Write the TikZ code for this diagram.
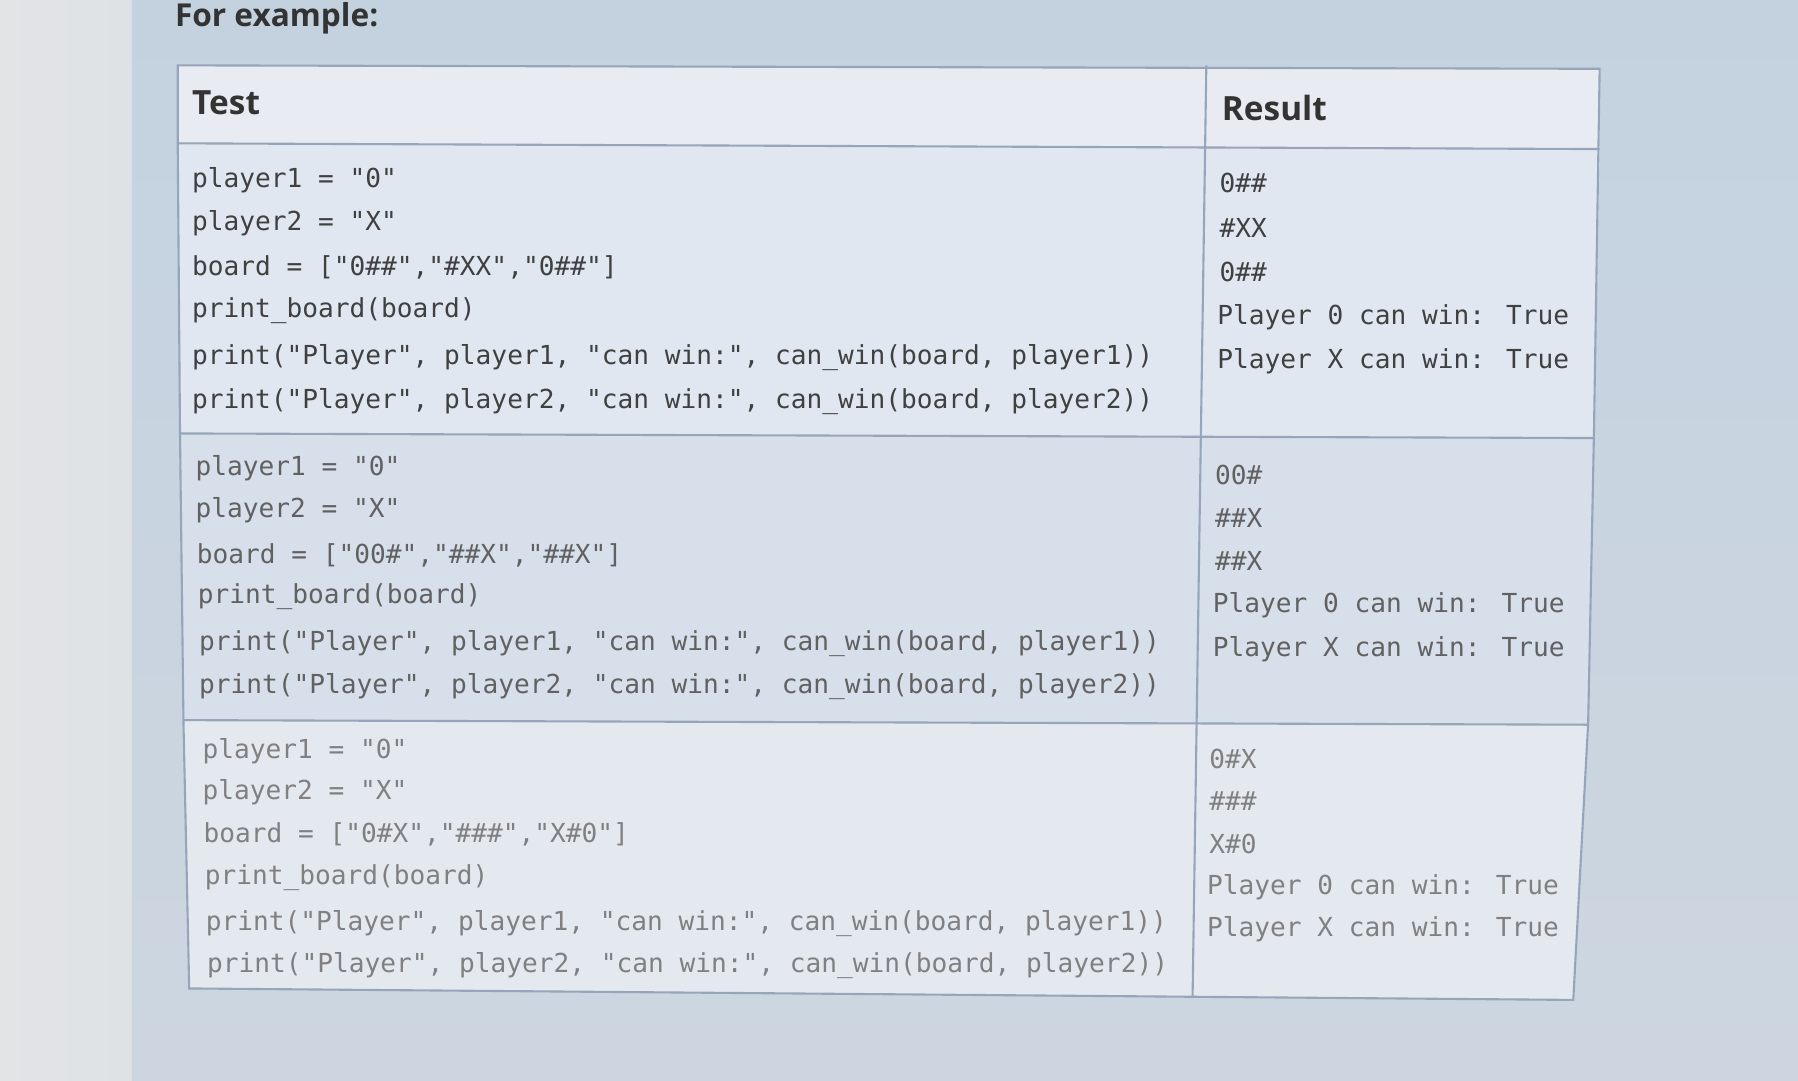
\documentclass[tikz,border=0pt]{standalone}
\usepackage{fontspec}
\setmainfont{Open Sans}
\newfontfamily\codefont{DejaVu Sans Mono}
\definecolor{bgl}{RGB}{226,228,230}
\definecolor{bgt}{RGB}{196,210,224}
\definecolor{bgb}{RGB}{205,214,224}
\definecolor{hd}{RGB}{232,236,242}
\definecolor{ra}{RGB}{224,231,241}
\definecolor{rb}{RGB}{214,223,234}
\definecolor{rc}{RGB}{228,233,240}
\definecolor{ln}{RGB}{150,165,185}
\begin{document}
\begin{tikzpicture}[x={(0.011467cm,0)},y={(0,-0.011467cm)},
  code/.style={anchor=west,inner sep=0pt,font=\codefont\fontsize{7.45pt}{9pt}\selectfont},
  head/.style={anchor=west,inner sep=0pt,font=\bfseries\fontsize{9.5pt}{11pt}\selectfont,text=black!80},
  grid/.style={draw=ln,line width=0.6pt}]
\useasboundingbox (0,0) rectangle (1568,942);
\shade[left color=bgl,right color=bgl!90!bgt] (0,0) rectangle (115,942);
\shade[top color=bgt,bottom color=bgb] (115,0) rectangle (1568,942);
\node[head,font=\bfseries\fontsize{9pt}{11pt}\selectfont] (fe) at (152,16) {For example:};
% table rows
\fill[hd] (155,57) -- (1395,60) -- (1395,130) -- (155,125) -- cycle;
\fill[ra] (155,125) -- (1395,130) -- (1390,382) -- (157,378) -- cycle;
\fill[rb] (157,378) -- (1390,382) -- (1385,632) -- (160,628) -- cycle;
\fill[rc] (160,628) -- (1385,632) -- (1372,872) -- (165,862) -- cycle;
\draw[grid] (155,57) -- (1395,60) -- (1390,380) -- (1385,630) -- (1372,872) -- (165,862) -- (160,630) -- (157,380) -- (155,127) -- cycle;
\draw[grid] (155,125) -- (1395,130);
\draw[grid] (157,378) -- (1390,382);
\draw[grid] (160,628) -- (1385,632);
\draw[grid] (1052,57) -- (1040,870);
\node[head] (t) at (167,90) {Test};
\node[head] (r) at (1065,94) {Result};
\begin{scope}[every node/.style={code,text=black!75}]
\node (a1) at (167,157) {player1 = "0"};
\node (a2) at (167,195) {player2 = "X"};
\node (a3) at (167,233) {board = ["0\#\#","\#XX","0\#\#"]};
\node (a4) at (167,271) {print\_board(board)};
\node (a5) at (167,312) {print("Player", player1, "can win:", can\_win(board, player1))};
\node (a6) at (167,350) {print("Player", player2, "can win:", can\_win(board, player2))};
\node (b1) at (1063,160) {0\#\#};
\node (b2) at (1063,199) {\#XX};
\node (b3) at (1063,237) {0\#\#};
\node (b4) at (1061,277) {Player 0 can win: True};
\node (b5) at (1061,315) {Player X can win: True};
\end{scope}
\begin{scope}[every node/.style={code,text=black!62}]
\node (c1) at (170,408) {player1 = "0"};
\node (c2) at (170,445) {player2 = "X"};
\node (c3) at (171,484) {board = ["00\#","\#\#X","\#\#X"]};
\node (c4) at (172,520) {print\_board(board)};
\node (c5) at (173,561) {print("Player", player1, "can win:", can\_win(board, player1))};
\node (c6) at (173,599) {print("Player", player2, "can win:", can\_win(board, player2))};
\node (d1) at (1059,414) {00\#};
\node (d2) at (1059,452) {\#\#X};
\node (d3) at (1059,489) {\#\#X};
\node (d4) at (1057,528) {Player 0 can win: True};
\node (d5) at (1057,566) {Player X can win: True};
\end{scope}
\begin{scope}[every node/.style={code,text=black!50}]
\node (e1) at (176,655) {player1 = "0"};
\node (e2) at (176,691) {player2 = "X"};
\node (e3) at (177,728) {board = ["0\#X","\#\#\#","X\#0"]};
\node (e4) at (178,765) {print\_board(board)};
\node (e5) at (179,805) {print("Player", player1, "can win:", can\_win(board, player1))};
\node (e6) at (180,842) {print("Player", player2, "can win:", can\_win(board, player2))};
\node (f1) at (1054,662) {0\#X};
\node (f2) at (1054,699) {\#\#\#};
\node (f3) at (1054,736) {X\#0};
\node (f4) at (1052,774) {Player 0 can win: True};
\node (f5) at (1052,810) {Player X can win: True};
\end{scope}
\end{tikzpicture}
\end{document}
